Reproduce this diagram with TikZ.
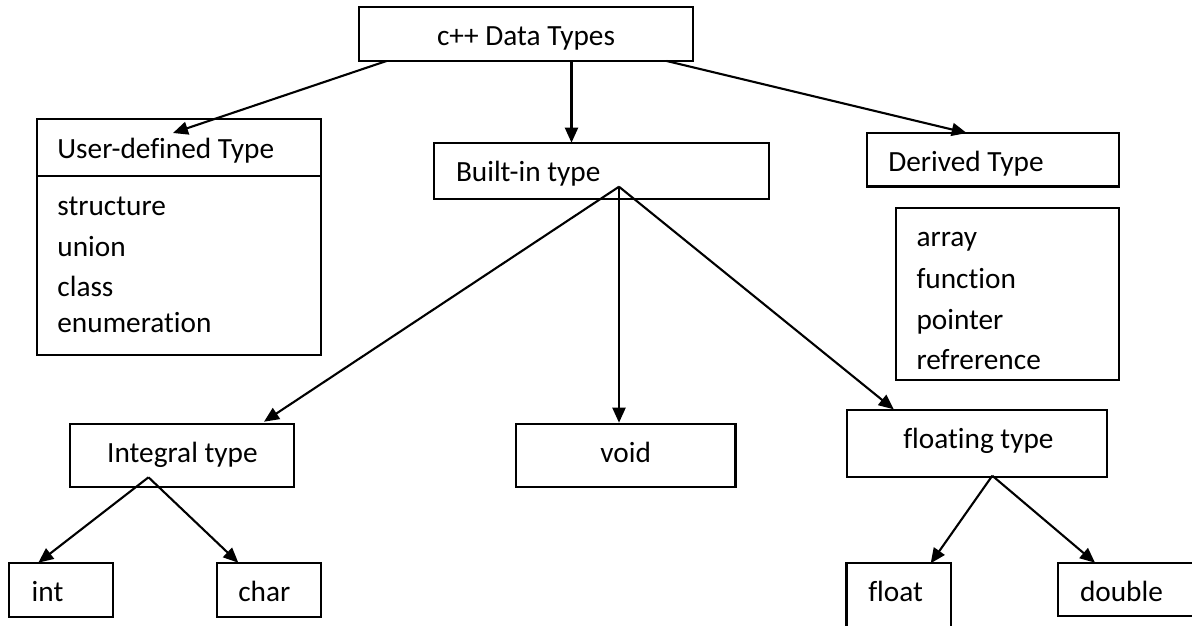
\documentclass[tikz,border=0pt]{standalone}
\usepackage{fontspec}
\setmainfont{Carlito}[Ligatures={NoCommon}]
\usetikzlibrary{arrows.meta}
\begin{document}
\begin{tikzpicture}[x=1pt,y=-1pt,
  box/.style={draw=black,line width=2.1pt,inner sep=0pt,outer sep=0pt,anchor=north west},
  txt/.style={inner sep=0pt,outer sep=0pt,anchor=base west,font=\fontsize{29.3}{35}\selectfont},
  conn/.style={line width=2.1pt,-{Triangle[length=15pt,width=13pt]}},
  plain/.style={line width=2.1pt}]
\useasboundingbox (0,0) rectangle (1192,625);
\clip (0,0) rectangle (1192,625);
% boxes
\node[box,minimum width=334.3pt,minimum height=53.7pt] (top) at (359,7.3) {};
\node[box,minimum width=284pt,minimum height=235.4pt] (user) at (36.7,119.3) {};
\node[box,minimum width=334.7pt,minimum height=56.3pt] (builtin) at (434.3,142.7) {};
\node[box,minimum width=252.7pt,minimum height=53.8pt] (derived) at (866.7,132.7) {};
\node[box,minimum width=223.7pt,minimum height=171.7pt] (dlist) at (895.7,208.3) {};
\node[box,minimum width=224.2pt,minimum height=62.7pt] (integral) at (69.7,424) {};
\node[box,minimum width=219.6pt,minimum height=62.7pt] (void) at (515.9,424) {};
\node[box,minimum width=260pt,minimum height=66.7pt] (floating) at (846.7,410) {};
\node[box,minimum width=104pt,minimum height=53.4pt] (int) at (9.3,563.3) {};
\node[box,minimum width=103.4pt,minimum height=53.4pt] (char) at (217.3,563.3) {};
\node[box,minimum width=104.1pt,minimum height=75pt] (float) at (846.5,563.3) {};
\node[box,minimum width=150pt,minimum height=52.7pt] (double) at (1057.7,563.3) {};
% divider in user box
\draw[plain] ([yshift=-56.4pt]user.north west) -- ([yshift=-56.4pt]user.north east);
% texts
\node[txt,anchor=base] (toptxt) at (526,45) {c++ Data Types};
\node[txt] (usertxt) at (57.4,158) {User-defined Type};
\node[txt] (u1) at (57.4,215) {structure};
\node[txt] (u2) at (57.4,256.7) {union};
\node[txt] (u3) at (57.4,296.7) {class};
\node[txt] (u4) at (57.4,332.3) {enumeration};
\node[txt] (builtintxt) at (456,181.7) {Built-in type};
\node[txt] (derivedtxt) at (888.3,171.7) {Derived Type};
\node[txt] (d1) at (916.5,246.7) {array};
\node[txt] (d2) at (916.5,288.3) {function};
\node[txt] (d3) at (916.5,329.3) {pointer};
\node[txt] (d4) at (916.5,369.3) {refrerence};
\node[txt] (integraltxt) at (107.2,462.7) {Integral type};
\node[txt] (voidtxt) at (600.4,462.7) {void};
\node[txt] (floatingtxt) at (903.3,448.3) {floating type};
\node[txt] (inttxt) at (31.7,601.7) {int};
\node[txt] (chartxt) at (238.3,601.7) {char};
\node[txt] (floattxt) at (868.3,601.7) {float};
\node[txt] (doubletxt) at (1080,601.7) {double};
% fork points
\coordinate (bfork) at ([xshift=184.7pt,yshift=12.3pt]builtin.south west);
\coordinate (ifork) at ([xshift=78.8pt,yshift=9.4pt]integral.south west);
\coordinate (ffork) at ([xshift=145.6pt,yshift=1pt]floating.south west);
% connectors
\draw[conn] ([xshift=27.5pt]top.south west) -- ([xshift=136.3pt,yshift=-13.7pt]user.north west);
\draw[conn] ([xshift=212.5pt]top.south west) -- ([xshift=137.2pt]builtin.north west);
\draw[conn] ([xshift=307.7pt]top.south west) -- ([xshift=100pt,yshift=-0.3pt]derived.north west);
\draw[conn] (bfork) -- ([xshift=194.3pt,yshift=2.3pt]integral.north west);
\draw[conn] (bfork) -- ([xshift=103.1pt,yshift=1.3pt]void.north west);
\draw[conn] (bfork) -- ([xshift=47pt,yshift=0.7pt]floating.north west);
\draw[conn] (ifork) -- ([xshift=29pt,yshift=0.6pt]int.north west);
\draw[conn] (ifork) -- ([xshift=21pt,yshift=0.6pt]char.north west);
\draw[conn] (ffork) -- ([xshift=84.2pt]float.north west);
\draw[conn] (ffork) -- ([xshift=37.3pt,yshift=0.6pt]double.north west);
\end{tikzpicture}
\end{document}
